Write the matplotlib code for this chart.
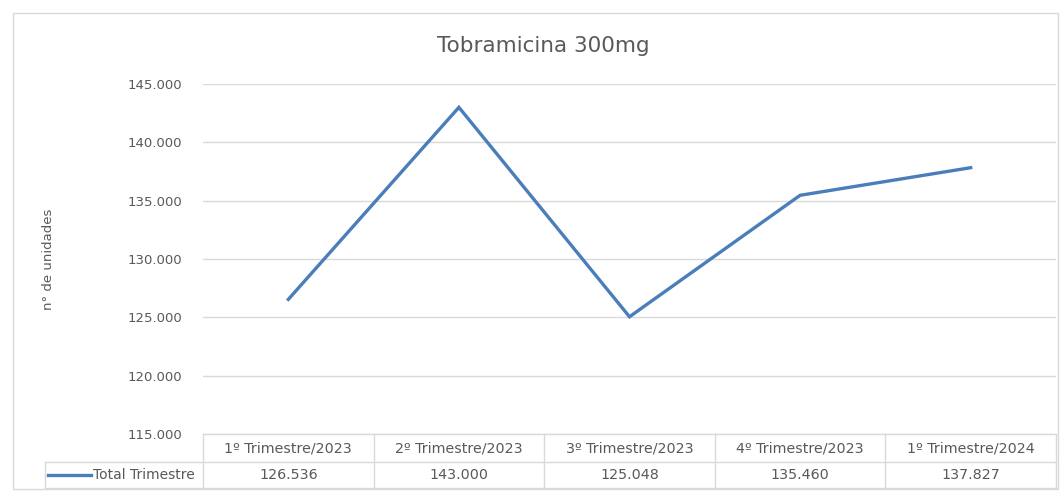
import numpy as np
import matplotlib.pyplot as plt
from matplotlib.patches import Rectangle
from matplotlib.lines import Line2D
from matplotlib.ticker import FuncFormatter

# data
categorias = ['1º Trimestre/2023', '2º Trimestre/2023', '3º Trimestre/2023',
              '4º Trimestre/2023', '1º Trimestre/2024']
total_trimestre = [126536, 143000, 125048, 135460, 137827]
serie = 'Total Trimestre'
titulo = 'Tobramicina 300mg'
yticks = [115000, 120000, 125000, 130000, 135000, 140000, 145000]

W, H = 1061, 491
azul = '#4A7EBB'
gris = '#D9D9D9'
texto = '#595959'
plt.rcParams['font.family'] = ['DejaVu Sans']

fig = plt.figure(figsize=(W / 100, H / 100), dpi=100)

# chart area border
fig.patches.append(Rectangle((13 / W, 1 - 489 / H), (1058 - 13) / W, (489 - 13) / H,
                             transform=fig.transFigure, fill=False,
                             edgecolor=gris, lw=1))

ax = fig.add_axes([203 / W, 1 - 434 / H, (1056 - 203) / W, (434 - 84) / H])
x = np.arange(len(categorias))
ax.plot(x, total_trimestre, color=azul, lw=2.4, solid_joinstyle='miter')
ax.set_xlim(-0.5, len(categorias) - 0.5)
ax.set_ylim(yticks[0], yticks[-1])
ax.set_yticks(yticks)
ax.yaxis.set_major_formatter(FuncFormatter(lambda v, p: f'{int(v):,}'.replace(',', '.')))
ax.tick_params(axis='y', length=0, pad=15, labelsize=9.5, labelcolor=texto)
ax.set_xticks([])
ax.grid(axis='y', color=gris, lw=1)
ax.set_axisbelow(True)
for s in ax.spines.values():
    s.set_visible(False)
fig.text(543 / W, 1 - 46 / H, titulo, fontsize=15.5, color=texto, ha='center', va='center')
ax.set_ylabel('n° de unidades', fontsize=9.5, color=texto, labelpad=52)

# data table below the axis
tr = ax.get_xaxis_transform()
h = 350
y0 = 0
y1 = -(462 - 434) / h
y2 = -(488 - 434) / h
xl = -0.5 - (203 - 45) / ((1056 - 203) / len(categorias))
n = len(categorias)
for yy, xa in [(y0, -0.5), (y1, xl), (y2, xl)]:
    ax.add_line(Line2D([xa, n - 0.5], [yy, yy], transform=tr, color=gris, lw=1, clip_on=False))
for i in range(n + 1):
    ax.add_line(Line2D([i - 0.5, i - 0.5], [y0, y2], transform=tr, color=gris, lw=1, clip_on=False))
ax.add_line(Line2D([xl, xl], [y1, y2], transform=tr, color=gris, lw=1, clip_on=False))
for i in range(n):
    ax.text(i, (y0 + y1) / 2, categorias[i], transform=tr, ha='center', va='center',
            fontsize=10.3, color=texto)
    ax.text(i, (y1 + y2) / 2, f'{total_trimestre[i]:,}'.replace(',', '.'), transform=tr,
            ha='center', va='center', fontsize=10.3, color=texto)
ym = (y1 + y2) / 2
ax.add_line(Line2D([xl + 0.02, xl + 0.27], [ym, ym], transform=tr, color=azul, lw=2.4,
                   clip_on=False))
ax.text(xl + 0.28, ym, serie, transform=tr, ha='left', va='center', fontsize=10, color=texto)

fig.savefig('out.png', dpi=100)
